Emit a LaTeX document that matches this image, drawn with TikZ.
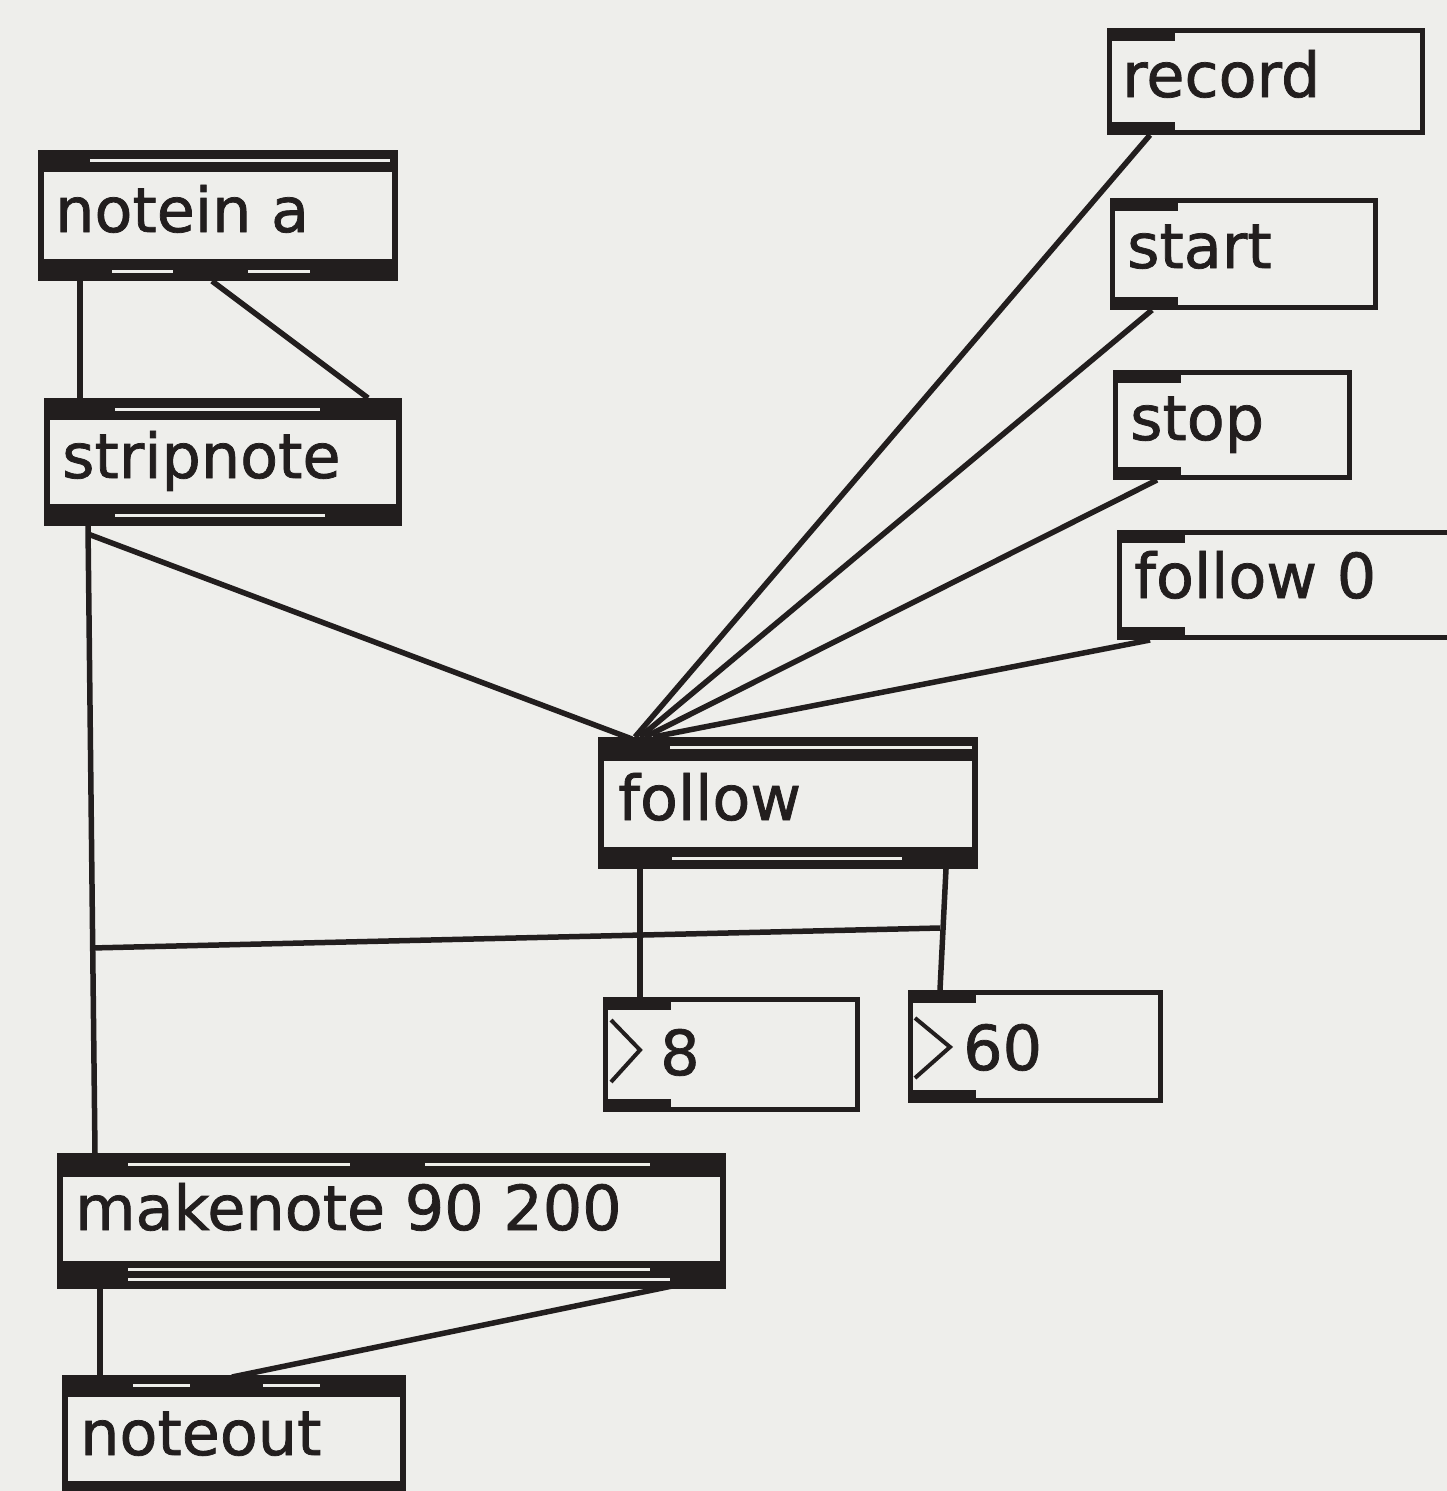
\documentclass[tikz,border=0pt]{standalone}
\usepackage{fontspec}
\setmainfont[FakeBold=1.2]{DejaVu Sans}
\usepackage{tikz}
\usetikzlibrary{calc}

\definecolor{paper}{RGB}{238,238,235}
\definecolor{ink}{RGB}{34,30,30}

\tikzset{
	objbox/.style={draw=ink, line width=6pt, fill=paper, rectangle, inner sep=0pt, anchor=north west},
	msgbox/.style={draw=ink, line width=5pt, fill=paper, rectangle, inner sep=0pt, anchor=north west},
	boxtext/.style={anchor=base west, inner sep=0pt, text=ink},
	cord/.style={draw=ink, line width=5.5pt},
	slit/.style={draw=paper, line width=3pt},
}

\begin{document}
\begin{tikzpicture}[x=1pt, y=-1pt, font=\fontsize{62}{70}\selectfont]
		\useasboundingbox[fill=paper] (0,0) rectangle (1447,1491);
		% object boxes
		\node[objbox, minimum width=354pt, minimum height=125pt] (notein) at (38,150) {};
		\node[objbox, minimum width=352pt, minimum height=122pt] (stripnote) at (44,398) {};
		\node[objbox, minimum width=374pt, minimum height=126pt] (follow) at (598,737) {};
		\node[objbox, minimum width=663pt, minimum height=130pt] (makenote) at (57,1153) {};
		\node[objbox, minimum width=338pt, minimum height=122pt] (noteout) at (62,1375) {};
		% message boxes
		\node[msgbox, minimum width=313pt, minimum height=102pt] (record) at (1107,28) {};
		\node[msgbox, minimum width=263pt, minimum height=107pt] (start) at (1110,198) {};
		\node[msgbox, minimum width=234pt, minimum height=105pt] (stop) at (1113,370) {};
		\node[msgbox, minimum width=360pt, minimum height=105pt] (follow0) at (1117,530) {};
		% number boxes
		\node[msgbox, minimum width=252pt, minimum height=110pt] (num8) at (603,997) {};
		\node[msgbox, minimum width=250pt, minimum height=108pt] (num60) at (908,990) {};
		% inlet and outlet bands of the object boxes
		\foreach \b/\top/\bot in {notein/22/22, stripnote/22/22, follow/24/22, makenote/24/28, noteout/22/22} {
			\fill[ink] (\b.north west) rectangle ($(\b.north east)+(0,\top)$);
			\fill[ink] ($(\b.south west)+(0,-\bot)$) rectangle (\b.south east);
		}
		\draw[slit] ($(notein.north west)+(52,10)$) -- ($(notein.north east)+(-8,10)$);
		\draw[slit] ($(notein.south west)+(74,-10)$) -- ($(notein.south west)+(135,-10)$);
		\draw[slit] ($(notein.south west)+(210,-10)$) -- ($(notein.south west)+(272,-10)$);
		\draw[slit] ($(stripnote.north west)+(71,11)$) -- ($(stripnote.north west)+(276,11)$);
		\draw[slit] ($(stripnote.south west)+(71,-11)$) -- ($(stripnote.south west)+(281,-11)$);
		\draw[slit] ($(follow.north west)+(72,10)$) -- ($(follow.north east)+(-6,10)$);
		\draw[slit] ($(follow.south west)+(74,-11)$) -- ($(follow.south west)+(304,-11)$);
		\draw[slit] ($(makenote.north west)+(71,11)$) -- ($(makenote.north west)+(293,11)$);
		\draw[slit] ($(makenote.north west)+(368,11)$) -- ($(makenote.north west)+(593,11)$);
		\draw[slit] ($(makenote.south west)+(71,-20)$) -- ($(makenote.south west)+(593,-20)$);
		\draw[slit] ($(makenote.south west)+(71,-10)$) -- ($(makenote.south west)+(613,-10)$);
		\draw[slit] ($(noteout.north west)+(71,10)$) -- ($(noteout.north west)+(128,10)$);
		\draw[slit] ($(noteout.north west)+(201,10)$) -- ($(noteout.north west)+(258,10)$);
		\draw[slit] ($(noteout.south west)+(68,-11)$) -- ($(noteout.south east)+(-2,-11)$);
		% inlet and outlet of the message and number boxes
		\foreach \b in {record, start, stop, follow0, num8, num60} {
			\fill[ink] (\b.north west) rectangle ($(\b.north west)+(68,13)$);
			\fill[ink] ($(\b.south west)+(0,-13)$) rectangle ($(\b.south west)+(68,0)$);
		}
		\draw[ink, line width=4pt] ($(num8.north west)+(8,23)$) -- ($(num8.north west)+(37,53)$) -- ($(num8.north west)+(8,85)$);
		\draw[ink, line width=4pt] ($(num60.north west)+(7,28)$) -- ($(num60.north west)+(42,57)$) -- ($(num60.north west)+(7,88)$);
		% box texts
		\node[boxtext] (notein-t) at ($(notein.north west)+(17,82)$) {notein a};
		\node[boxtext] (stripnote-t) at ($(stripnote.north west)+(18,80)$) {stripnote};
		\node[boxtext] (follow-t) at ($(follow.north west)+(20,83)$) {follow};
		\node[boxtext] (makenote-t) at ($(makenote.north west)+(18,77)$) {makenote 90 200};
		\node[boxtext] (noteout-t) at ($(noteout.north west)+(18,80)$) {noteout};
		\node[boxtext] (record-t) at ($(record.north west)+(15,69)$) {record};
		\node[boxtext] (start-t) at ($(start.north west)+(17,70)$) {start};
		\node[boxtext] (stop-t) at ($(stop.north west)+(17,70)$) {stop};
		\node[boxtext] (follow0-t) at ($(follow0.north west)+(17,68)$) {follow 0};
		\node[boxtext] (num8-t) at ($(num8.north west)+(57,78)$) {8};
		\node[boxtext] (num60-t) at ($(num60.north west)+(55,80)$) {60};
		% patch cords
		\draw[cord] ($(notein.south west)+(42,0)$) -- ($(stripnote.north west)+(36,0)$);
		\draw[cord] ($(notein.south west)+(174,0)$) -- ($(stripnote.north east)+(-34,0)$);
		\draw[cord] ($(stripnote.south west)+(44,0)$) -- ($(makenote.north west)+(38,0)$);
		\draw[cord] ($(stripnote.south west)+(44,8)$) -- ($(follow.north west)+(34,2)$);
		\draw[cord] ($(record.south west)+(43,0)$) -- ($(follow.north west)+(37,0)$);
		\draw[cord] ($(start.south west)+(42,0)$) -- ($(follow.north west)+(42,0)$);
		\draw[cord] ($(stop.south west)+(44,0)$) -- ($(follow.north west)+(47,0)$);
		\draw[cord] ($(follow0.south west)+(33,0)$) -- ($(follow.north west)+(55,0)$);
		\draw[cord] ($(follow.south west)+(42,0)$) -- ($(num8.north west)+(37,0)$);
		\draw[cord] ($(follow.south east)+(-32,0)$) -- ($(num60.north west)+(32,0)$);
		\coordinate (tapL) at (91,948);
		\coordinate (tapR) at (940,928);
		\draw[cord] (tapL) -- (tapR);
		\draw[cord] ($(makenote.south west)+(43,0)$) -- ($(noteout.north west)+(38,0)$);
		\draw[cord] ($(makenote.south east)+(-20,-10)$) -- ($(noteout.north west)+(170,2)$);
	\end{tikzpicture}
\end{document}
